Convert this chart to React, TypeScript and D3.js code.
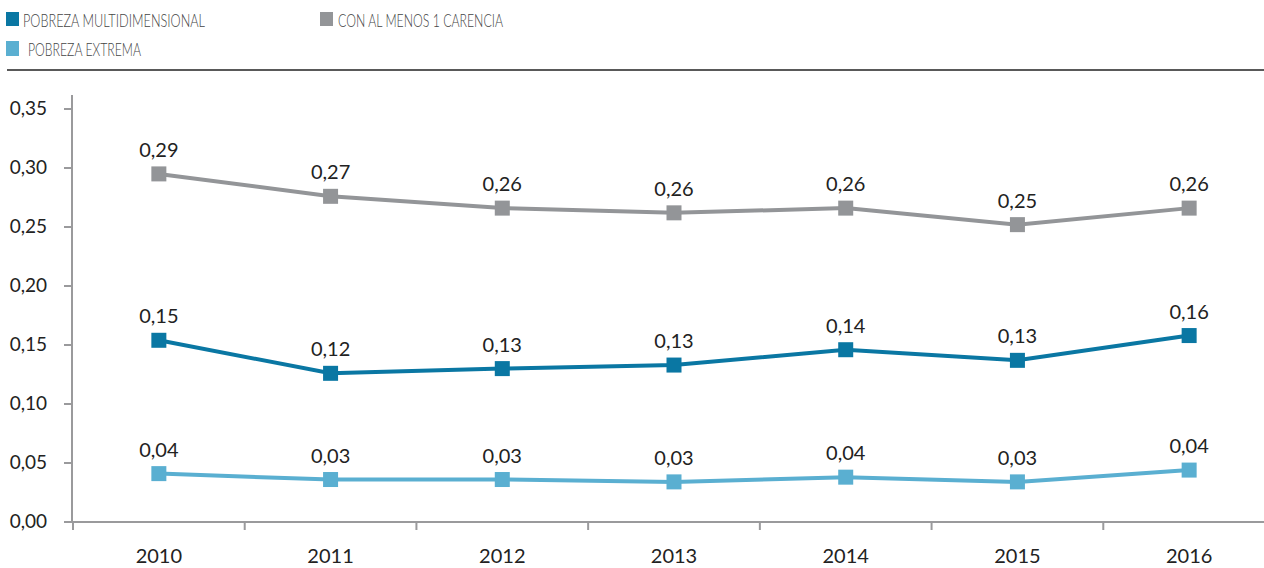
import React from "react";
import * as d3 from "d3";

const years = ["2010", "2011", "2012", "2013", "2014", "2015", "2016"];
const conCarencia = [0.295, 0.276, 0.266, 0.262, 0.266, 0.252, 0.266];
const conCarenciaLabels = ["0,29", "0,27", "0,26", "0,26", "0,26", "0,25", "0,26"];
const pobrezaMulti = [0.154, 0.126, 0.13, 0.133, 0.146, 0.137, 0.158];
const pobrezaMultiLabels = ["0,15", "0,12", "0,13", "0,13", "0,14", "0,13", "0,16"];
const pobrezaExtrema = [0.041, 0.036, 0.036, 0.034, 0.038, 0.034, 0.044];
const pobrezaExtremaLabels = ["0,04", "0,03", "0,03", "0,03", "0,04", "0,03", "0,04"];
const yTicks = [0, 0.05, 0.1, 0.15, 0.2, 0.25, 0.3, 0.35];
const yTickLabels = ["0,00", "0,05", "0,10", "0,15", "0,20", "0,25", "0,30", "0,35"];

const C_DARK = "#0a77a3";
const C_GRAY = "#939598";
const C_LIGHT = "#5aafd1";
const AXIS = "#9a9a9c";
const FONT = "Lato, 'Open Sans', sans-serif";

export default function App() {
  const W = 1264, H = 568;
  const x = d3.scaleBand<string>().domain(years).range([73, 1275]);
  const y = d3.scaleLinear().domain([0, 0.35]).range([522, 109]);
  const cx = (d: string) => (x(d) as number) + x.bandwidth() / 2;
  const line = d3.line<number>().x((_, i) => cx(years[i])).y((v) => y(v));

  const series = [
    { values: conCarencia, labels: conCarenciaLabels, color: C_GRAY },
    { values: pobrezaMulti, labels: pobrezaMultiLabels, color: C_DARK },
    { values: pobrezaExtrema, labels: pobrezaExtremaLabels, color: C_LIGHT },
  ];
  const tickXs = years.map((d) => x(d) as number).concat([(x(years[6]) as number) + x.bandwidth()]);

  return (
    <svg width={W} height={H} style={{ position: "absolute", left: 0, top: 0, fontFamily: FONT }}>
      <rect width={W} height={H} fill="#fff" />
      {/* legend */}
      <g fontSize={17} fill="#444" fontWeight={300}>
        <rect x={6} y={12} width={13} height={14} fill={C_DARK} />
        <text x={23} y={26.5} textLength={182} lengthAdjust="spacingAndGlyphs">POBREZA MULTIDIMENSIONAL</text>
        <rect x={320} y={12} width={13} height={14} fill={C_GRAY} />
        <text x={338} y={26.5} textLength={165} lengthAdjust="spacingAndGlyphs">CON AL MENOS 1 CARENCIA</text>
        <rect x={6} y={41} width={13} height={15} fill={C_LIGHT} />
        <text x={28} y={56} textLength={113} lengthAdjust="spacingAndGlyphs">POBREZA EXTREMA</text>
      </g>
      <line x1={7} x2={1264} y1={70} y2={70} stroke="#222" strokeWidth={1.3} />
      {/* axes */}
      <line x1={72} x2={72} y1={95} y2={522} stroke={AXIS} strokeWidth={2} />
      <line x1={72} x2={1264} y1={522} y2={522} stroke={AXIS} strokeWidth={2} />
      {yTicks.map((t, i) => (
        <g key={t}>
          <line x1={64} x2={72} y1={y(t)} y2={y(t)} stroke={AXIS} strokeWidth={2} />
          <text x={47} y={y(t) + 6} textAnchor="end" fontSize={19} fill="#222">{yTickLabels[i]}</text>
        </g>
      ))}
      {tickXs.map((tx, i) => (
        <line key={i} x1={tx} x2={tx} y1={522} y2={530} stroke={AXIS} strokeWidth={2} />
      ))}
      {years.map((yr) => (
        <text key={yr} x={cx(yr)} y={563} textAnchor="middle" fontSize={20} fill="#222">{yr}</text>
      ))}
      {/* series */}
      {series.map((s, si) => (
        <g key={si}>
          <path d={line(s.values) || ""} fill="none" stroke={s.color} strokeWidth={4} />
          {s.values.map((v, i) => (
            <rect key={i} x={cx(years[i]) - 7.5} y={y(v) - 7.5} width={15} height={15} fill={s.color} />
          ))}
          {s.values.map((v, i) => (
            <text key={"l" + i} x={cx(years[i])} y={y(v) - 17} textAnchor="middle" fontSize={20} fill="#222">{s.labels[i]}</text>
          ))}
        </g>
      ))}
    </svg>
  );
}
